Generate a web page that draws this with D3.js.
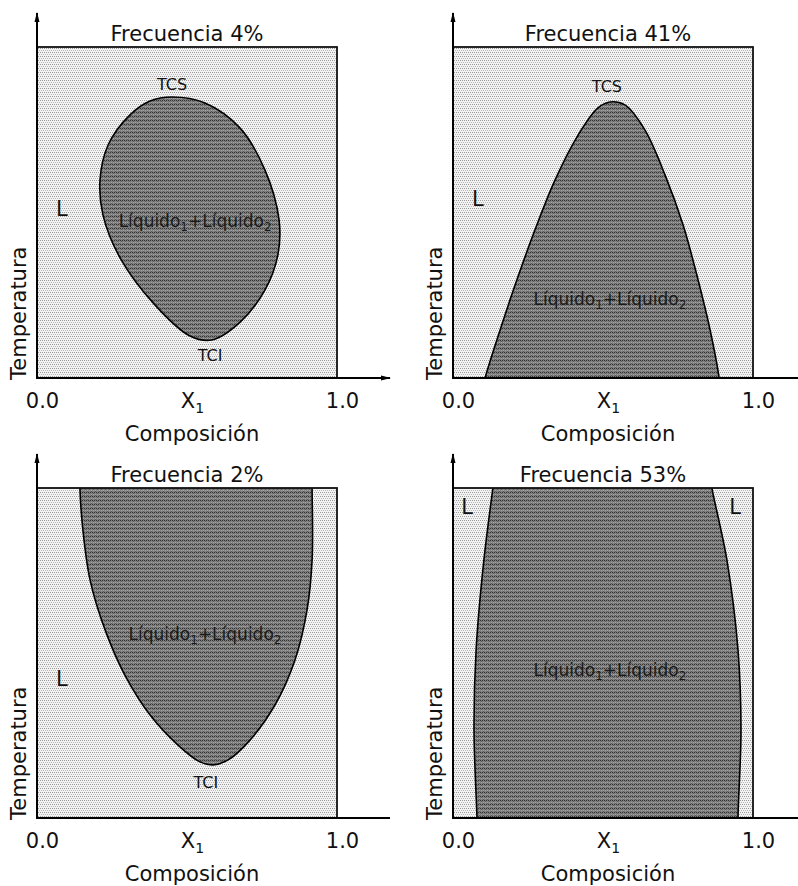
<!DOCTYPE html>
<html>
<head>
<meta charset="utf-8">
<script src="https://cdn.jsdelivr.net/npm/d3@7"></script>
<style>
  body { margin: 0; background: #fff; }
  svg text { font-family: "DejaVu Sans", sans-serif; fill: #111; }
</style>
</head>
<body>
<svg width="798" height="886"></svg>
<script>
"use strict";

// titles of the four panels
const titles = ["Frecuencia 4%", "Frecuencia 41%", "Frecuencia 2%", "Frecuencia 53%"];

// x axis ticks (composition)
const tickValues = [0, 0.5, 1];
const tickLabels = ["0.0", "X", "1.0"];

// two-liquid region boundaries, [composition, reduced temperature]
const gap4 = [
  [0.450, 0.849], [0.560, 0.831], [0.677, 0.755], [0.760, 0.628], [0.807, 0.477],
  [0.803, 0.372], [0.760, 0.266], [0.677, 0.169], [0.583, 0.115], [0.510, 0.127],
  [0.393, 0.221], [0.277, 0.363], [0.220, 0.492], [0.210, 0.598], [0.237, 0.704],
  [0.310, 0.795], [0.377, 0.837]
];
const gap41 = [
  [0.100, -0.03], [0.107, 0.0], [0.157, 0.145], [0.207, 0.281], [0.273, 0.447],
  [0.340, 0.598], [0.417, 0.734], [0.483, 0.816], [0.523, 0.834], [0.573, 0.825],
  [0.640, 0.749], [0.707, 0.613], [0.767, 0.462], [0.817, 0.296], [0.857, 0.145],
  [0.887, 0.0], [0.890, -0.03]
];
const gap2 = [
  [0.143, 1.05], [0.143, 1.0], [0.153, 0.873], [0.177, 0.721], [0.227, 0.570],
  [0.293, 0.433], [0.377, 0.312], [0.470, 0.221], [0.543, 0.170], [0.587, 0.161],
  [0.637, 0.176], [0.710, 0.236], [0.793, 0.342], [0.860, 0.479], [0.900, 0.630],
  [0.917, 0.782], [0.917, 1.0], [0.917, 1.05]
];
const gap53Left = [[0.140, 1.05], [0.133, 1.0], [0.103, 0.782], [0.077, 0.509], [0.070, 0.267], [0.080, 0.0], [0.081, -0.05]];
const gap53Right = [[0.951, -0.05], [0.950, 0.0], [0.960, 0.267], [0.950, 0.509], [0.913, 0.782], [0.863, 1.0], [0.855, 1.05]];

const gaps = [gap4, gap41, gap2, gap53Left.concat(gap53Right)];

// small labels inside each panel: [panel, composition, temperature, text]
const pointLabels = [
  [0, 0.450, 0.870, "TCS"], [0, 0.577, 0.050, "TCI"],
  [1, 0.513, 0.865, "TCS"],
  [2, 0.563, 0.090, "TCI"]
];
const liquidLabels = [[0, 0.527, 0.455], [1, 0.523, 0.220], [2, 0.560, 0.540], [3, 0.523, 0.430]];
const singleLabels = [[0, 0.083, 0.490], [1, 0.083, 0.520], [2, 0.083, 0.400], [3, 0.047, 0.920], [3, 0.940, 0.920]];

const svg = d3.select("svg");

// panel frames
const origins = [[37, 47], [453, 47], [37, 488], [453, 488]];
const heights = [331, 331, 330, 330];
const boxW = 300;
const axisEnds = [390, 798, 390, 798];

const defs = svg.append("defs");

const light = defs.append("pattern").attr("id", "light")
  .attr("patternUnits", "userSpaceOnUse").attr("width", 4).attr("height", 4);
light.append("rect").attr("width", 4).attr("height", 4).attr("fill", "#f3f3f3");
[[0, 0, "#9a9a9a"], [2, 0, "#9a9a9a"], [1, 2, "#b8b8b8"], [3, 2, "#b8b8b8"]].forEach(([x, y, c]) =>
  light.append("rect").attr("x", x).attr("y", y).attr("width", 1).attr("height", 1).attr("fill", c));

const dark = defs.append("pattern").attr("id", "dark")
  .attr("patternUnits", "userSpaceOnUse").attr("width", 4).attr("height", 4);
dark.append("rect").attr("width", 4).attr("height", 4).attr("fill", "#7e7e7e");
[[0, 0, "#333"], [2, 0, "#333"], [1, 2, "#a5a5a5"], [3, 2, "#a5a5a5"], [1, 1, "#5a5a5a"], [3, 3, "#5a5a5a"]].forEach(([x, y, c]) =>
  dark.append("rect").attr("x", x).attr("y", y).attr("width", 1).attr("height", 1).attr("fill", c));

const arrow = defs.append("marker").attr("id", "arrow")
  .attr("viewBox", "0 0 10 10").attr("refX", 9).attr("refY", 5)
  .attr("markerWidth", 10).attr("markerHeight", 10).attr("markerUnits", "userSpaceOnUse")
  .attr("orient", "auto");
arrow.append("path").attr("d", "M0,2.5 L10,5 L0,7.5 Z").attr("fill", "#000");

const render = i => {
  const [x0, y0] = origins[i];
  const h = heights[i];
  const x = d3.scaleLinear().domain([0, 1]).range([x0, x0 + boxW]);
  const y = d3.scaleLinear().domain([0, 1]).range([y0 + h, y0]);
  const g = svg.append("g");

  defs.append("clipPath").attr("id", "clip" + i)
    .append("rect").attr("x", x0).attr("y", y0).attr("width", boxW).attr("height", h);

  g.append("rect")
    .attr("x", x(0)).attr("y", y(1))
    .attr("width", x(1) - x(0)).attr("height", y(0) - y(1))
    .attr("fill", "url(#light)");

  const line = d3.line().x(d => x(d[0])).y(d => y(d[1]))
    .curve(i === 0 ? d3.curveCatmullRomClosed.alpha(0.5) : d3.curveCatmullRom.alpha(0.5));

  if (i === 3) {
    const side = d3.line().x(d => x(d[0])).y(d => y(d[1])).curve(d3.curveCatmullRom.alpha(0.5));
    const p = side(gap53Left) + "L" + side(gap53Right).slice(1) + "Z";
    g.append("path").attr("d", p).attr("clip-path", `url(#clip${i})`)
      .attr("fill", "url(#dark)").attr("stroke", "#000").attr("stroke-width", 1.6);
  } else {
    g.append("path").attr("d", line(gaps[i]) + (i === 0 ? "" : "Z"))
      .attr("clip-path", `url(#clip${i})`)
      .attr("fill", "url(#dark)").attr("stroke", "#000").attr("stroke-width", 1.6);
  }

  // frame
  g.append("rect")
    .attr("x", x(0)).attr("y", y(1))
    .attr("width", x(1) - x(0)).attr("height", y(0) - y(1))
    .attr("fill", "none").attr("stroke", "#111").attr("stroke-width", 1.8);

  // axes with arrows
  g.append("line")
    .attr("x1", x(0)).attr("y1", y(0) + 1).attr("x2", x(0)).attr("y2", y0 - 34)
    .attr("stroke", "#000").attr("stroke-width", 2).attr("marker-end", "url(#arrow)");
  const xAxisLine = g.append("line")
    .attr("x1", x(0)).attr("y1", y(0)).attr("x2", axisEnds[i]).attr("y2", y(0))
    .attr("stroke", "#000").attr("stroke-width", 2);
  if (i === 0) xAxisLine.attr("marker-end", "url(#arrow)");

  const axis = d3.axisBottom(x).tickValues(tickValues).tickSize(0).tickPadding(15)
    .tickFormat((d, k) => tickLabels[k]);
  const ag = g.append("g").attr("transform", `translate(5,${y(0)})`).call(axis);
  ag.select(".domain").remove();
  ag.selectAll("text").attr("font-size", 21).attr("font-family", null).attr("fill", "#111");
  ag.selectAll(".tick").filter(d => d === 0.5).select("text")
    .append("tspan").attr("font-size", 14).attr("dy", 5).text("1");

  g.append("text")
    .attr("x", (x(0) + x(1)) / 2 + 5).attr("y", y(0) + 63)
    .attr("text-anchor", "middle").attr("font-size", 21)
    .text("Composición");

  g.append("text")
    .attr("transform", `translate(${x(0) - 11},${y(0) + 2}) rotate(-90)`)
    .attr("text-anchor", "start").attr("font-size", 21)
    .text("Temperatura");

  g.append("text")
    .attr("x", (x(0) + x(1)) / 2 + (i === 1 ? 5 : 0)).attr("y", y(1) - 6)
    .attr("text-anchor", "middle").attr("font-size", 21)
    .text(titles[i]);

  pointLabels.filter(d => d[0] === i).forEach(d => {
    g.append("text").attr("x", x(d[1])).attr("y", y(d[2]))
      .attr("text-anchor", "middle").attr("font-size", 16).text(d[3]);
  });

  liquidLabels.filter(d => d[0] === i).forEach(d => {
    const t = g.append("text").attr("x", x(d[1])).attr("y", y(d[2]))
      .attr("text-anchor", "middle").attr("font-size", 17).style("fill", "#1a1a1a");
    t.append("tspan").text("Líquido");
    t.append("tspan").attr("font-size", 12).attr("dy", 4).text("1");
    t.append("tspan").attr("dy", -4).text("+Líquido");
    t.append("tspan").attr("font-size", 12).attr("dy", 4).text("2");
  });

  singleLabels.filter(d => d[0] === i).forEach(d => {
    g.append("text").attr("x", x(d[1])).attr("y", y(d[2]))
      .attr("text-anchor", "middle").attr("font-size", 21).text("L");
  });
};

[0, 1, 2, 3].forEach(render);
</script>
</body>
</html>
